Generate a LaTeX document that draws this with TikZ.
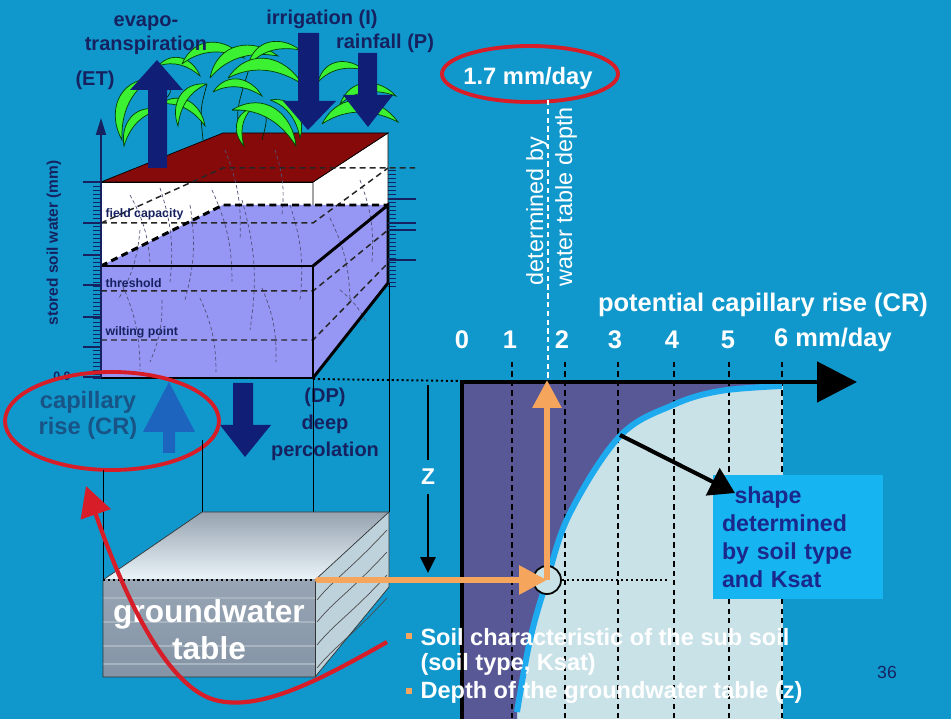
\documentclass[tikz,border=0pt]{standalone}
\usepackage{fontspec}
\setmainfont{Liberation Sans}
\usetikzlibrary{arrows.meta,positioning,calc}

\definecolor{slidebg}{RGB}{16,152,204}
\definecolor{navy}{RGB}{16,30,118}
\definecolor{labelnavy}{RGB}{22,34,96}
\definecolor{soilred}{RGB}{135,10,10}
\definecolor{soilblue}{RGB}{150,150,245}
\definecolor{rootgray}{RGB}{80,80,120}
\definecolor{leafgreen}{RGB}{60,240,50}
\definecolor{crblue}{RGB}{28,100,190}
\definecolor{crtext}{RGB}{24,84,134}
\definecolor{ringred}{RGB}{215,30,40}
\definecolor{chartdark}{RGB}{88,88,150}
\definecolor{chartlight}{RGB}{200,226,232}
\definecolor{curveblue}{RGB}{30,170,238}
\definecolor{orangearr}{RGB}{246,165,92}
\definecolor{boxblue}{RGB}{22,180,240}
\definecolor{boxtext}{RGB}{26,40,140}
\definecolor{gwback}{RGB}{150,162,175}
\definecolor{gwfrontedge}{RGB}{235,245,250}
\definecolor{gwface}{RGB}{132,148,166}
\definecolor{gwside}{RGB}{190,210,220}

\begin{document}
\begin{tikzpicture}[x=0.02cm, y=-0.02cm, semithick]
\tikzstyle{lbl}=[text=labelnavy, font=\bfseries\fontsize{11.4}{13.6}\selectfont, inner sep=0pt, align=center]
\tikzstyle{whitelbl}=[text=white, font=\bfseries\fontsize{14.5}{17}\selectfont, inner sep=0pt]
\tikzstyle{levellbl}=[text=labelnavy, font=\bfseries\fontsize{7}{8}\selectfont, inner sep=0pt, anchor=west]
\tikzstyle{level}=[black!85, line width=0.85pt, dash pattern=on 3.4pt off 2.3pt]
\tikzstyle{hidden}=[black, line width=1.7pt, dash pattern=on 4pt off 2.5pt]
\tikzstyle{root}=[rootgray, line width=0.4pt, dash pattern=on 2pt off 1.5pt]
\tikzstyle{leaf}=[fill=leafgreen, draw=green!25!black, line width=0.4pt]
\tikzstyle{gridln}=[black, line width=1.2pt, dash pattern=on 3pt off 2.4pt]
\tikzstyle{ring}=[ringred, line width=2.2pt]
\tikzstyle{orangearrow}=[orangearr, line width=3.4pt, -{Triangle[length=0.56cm,width=0.56cm]}]
\tikzstyle{bullettxt}=[text=white, font=\bfseries\fontsize{13.4}{16}\selectfont, inner sep=0pt, anchor=west]
\tikzstyle{bulletsq}=[fill=orangearr, inner sep=0pt, minimum size=0.12cm]

\fill[slidebg] (0,0) rectangle (951,719);
\useasboundingbox (0,0) rectangle (951,719);

% soil box, white layer and red top
\filldraw[fill=white, draw=black, thin] (101,182) rectangle (313,266);
\filldraw[fill=white, draw=black, thin] (313,182) -- (388,133) -- (388,205) -- (313,266) -- cycle;
\filldraw[fill=soilred, draw=black, thin] (101,182) -- (223,133) -- (388,133) -- (313,182) -- cycle;
% soil box, wet part
\fill[soilblue] (101,266) -- (223,205) -- (388,205) -- (313,266) -- cycle;
\fill[soilblue] (101,266) rectangle (313,378);
\fill[soilblue] (313,266) -- (388,205) -- (388,283) -- (313,378) -- cycle;
% roots
\foreach \ax/\ay/\bx/\by in {130/195/150/262, 160/188/170/282, 190/205/185/300, 212/190/232/282,
  242/200/250/330, 120/280/140/370, 162/300/150/362, 200/298/216/372, 262/288/276/362,
  290/205/300/300, 330/218/350/300, 360/180/372/262, 340/290/366/322, 225/150/240/240,
  275/150/282/215, 140/230/118/300}
  \draw[root] (\ax,\ay) to[bend left=12] (\bx,\by);
% levels
\draw[level] (101,223) -- (313,223) -- (388,168);
\draw[level] (101,223) -- (223,168) -- (415,168);
\draw[level] (101,291) -- (313,291) -- (388,230);
\draw[level] (101,340) -- (313,340) -- (388,263);
\draw[hidden] (101,266) -- (223,205) -- (388,205);
\draw[line width=1.7pt] (101,266) rectangle (313,378);
\draw[line width=1.7pt] (313,266) -- (388,205) -- (388,283) -- (313,378);
\node[levellbl] (fc) at (105,214) {field capacity};
\node[levellbl] (thr) at (105,283) {threshold};
\node[levellbl] (wp) at (105,332) {wilting point};

% stored soil water axis
\draw[labelnavy, line width=1.1pt, -{Triangle[length=0.34cm,width=0.2cm]}] (101,378) -- (101,118);
\foreach \ty in {182,186,...,378}
  \draw[labelnavy, thin] (93,\ty) -- (101,\ty);
\foreach \ty in {182,223,255,285,317,347,377}
  \draw[labelnavy, line width=0.9pt] (83,\ty) -- (101,\ty);
\foreach \ty in {170,174,...,286}
  \draw[labelnavy, thin] (388,\ty) -- (396,\ty);
\foreach \ty in {199,223,230,260}
  \draw[labelnavy, line width=0.9pt] (388,\ty) -- (416,\ty);
\node[text=labelnavy, font=\bfseries\fontsize{8.8}{10}\selectfont, rotate=90] (ssw) at (54,243) {stored soil water (mm)};
\node[text=labelnavy, font=\bfseries\fontsize{7}{8}\selectfont] (zero) at (62,376) {0.0};

% plant
\draw[green!15!black, thin] (203,140) .. controls (200,110) .. (207,84);
\draw[green!15!black, thin] (240,138) .. controls (236,110) .. (250,66);
\draw[green!15!black, thin] (262,140) .. controls (270,110) .. (232,110);
\draw[green!15!black, thin] (160,104) .. controls (175,90) .. (152,78);
\foreach \bx/\by/\tx/\ty/\lf in {152/78/122/140/-1, 160/110/124/146/-1, 160/104/205/126/1,
  158/66/200/76/1, 182/64/244/58/1, 207/84/178/126/-1, 210/78/278/56/1, 213/92/262/96/1,
  252/108/244/146/-1, 248/66/300/50/1, 228/78/302/84/1, 232/110/296/146/1,
  270/100/300/138/1, 318/82/364/70/1, 322/124/398/122/1, 340/104/396/96/1}
{
  \pgfmathsetmacro\la{atan2(\by-\ty,\tx-\bx)}
  \pgfmathsetmacro\ll{veclen(\tx-\bx,\ty-\by)}
  \begin{scope}[shift={(\bx,\by)}, rotate=\la, yscale=\lf]
    \filldraw[leaf] (0,0) .. controls (0.25*\ll,-0.45*\ll) and (0.75*\ll,-0.36*\ll) .. (\ll,0)
      .. controls (0.7*\ll,-0.16*\ll) and (0.35*\ll,-0.22*\ll) .. (0,0);
  \end{scope}
}

% flux arrows
\fill[navy] (148,168) -- (148,90) -- (130,90) -- (157,60) -- (183,90) -- (167,90) -- (167,168) -- cycle;
\fill[navy] (298,33) -- (298,101) -- (283,101) -- (308,130) -- (336,101) -- (319,101) -- (319,33) -- cycle;
\fill[navy] (358,53) -- (358,95) -- (343,95) -- (368,127) -- (393,95) -- (377,95) -- (377,53) -- cycle;
\fill[navy] (233,383) -- (233,425) -- (220,425) -- (245,457) -- (271,425) -- (253,425) -- (253,383) -- cycle;
\fill[crblue] (163,453) -- (163,432) -- (143,432) -- (169,382) -- (195,432) -- (175,432) -- (175,453) -- cycle;

\node[lbl] (et) at (146,35) {evapo-\\transpiration};
\node[lbl] (etshort) at (95,80) {(ET)};
\node[lbl] (irr) at (322,19) {irrigation (I)};
\node[lbl] (rain) at (385,43) {rainfall (P)};
\node[lbl, font=\bfseries\fontsize{11.4}{15.3}\selectfont] (dp) at (325,424) {(DP)\\deep\\percolation};

% capillary rise ring
\node[text=crtext, font=\bfseries\fontsize{13.5}{14.7}\selectfont, align=center, inner sep=0pt] (cr) at (88,415) {capillary\\rise (CR)};
\draw[ring] (112,421) ellipse (107 and 49);

% drop lines to groundwater
\draw[black, thin] (103,470) -- (103,580);
\draw[black, thin] (202,440) -- (202,512);
\draw[black, thin] (313,378) -- (313,580);
\draw[black, thin] (389,283) -- (389,512);
\draw[black, line width=1.1pt, dash pattern=on 1.2pt off 1.6pt] (313,379) -- (462,381);

% groundwater box
\shade[top color=gwback, bottom color=gwfrontedge] (103,580) -- (202,512) -- (389,512) -- (315,580) -- cycle;
\shade[top color=gwface!85!white, bottom color=gwface] (103,580) rectangle (315,677);
\foreach \sy in {598,622,646,664}
  \draw[gwface!70!white, line width=1pt] (103,\sy) -- (315,\sy);
\fill[gwside] (315,580) -- (389,512) -- (389,587) -- (315,677) -- cycle;
\foreach \wy in {600,622,645,668}
  \draw[gray!60!black, thin] (317,\wy) .. controls (335,\wy-22) and (350,\wy-30) .. (387,\wy-70);
\draw[black!80, thin] (103,580) -- (202,512) -- (389,512) -- (389,587) -- (315,677) -- (103,677) -- cycle;
\draw[black!80, thin] (315,580) -- (389,512);
\draw[black!80, thin] (315,580) -- (315,677);
\draw[black, line width=1.1pt, dash pattern=on 1.2pt off 1.6pt] (103,580) -- (315,580);
\node[text=white, font=\bfseries\fontsize{18}{21}\selectfont, align=center, inner sep=0pt] (gw) at (209,630) {groundwater\\table};

% rate label
\node[whitelbl, font=\bfseries\fontsize{13.5}{16}\selectfont] (rate) at (528,78) {1.7 mm/day};
\draw[ring] (530,74) ellipse (88 and 28);
\coordinate (wtop) at (548,100);
\coordinate (wbot) at (548,382);
\draw[white, line width=0.8pt, dash pattern=on 3pt off 2pt] (wtop) -- (wbot);
\node[text=white, font=\fontsize{13.3}{15}\selectfont, rotate=90] (detby) at (537,211) {determined by};
\node[text=white, font=\fontsize{13.3}{15}\selectfont, rotate=90] (wtd) at (566,197) {water table depth};

% capillary rise chart
\fill[chartlight] (462,382) rectangle (783,719);
\fill[chartdark] (462,719) -- (517,719) -- plot[smooth, tension=0.6] coordinates {(517,712) (530,640) (547,580) (570,513) (620,436) (673,405) (720,391) (782,386)} -- (782,382) -- (462,382) -- cycle;
\foreach \gx in {512,565,618,674,729,782}
  \draw[gridln] (\gx,362) -- (\gx,719);
\draw[curveblue, line width=3.4pt] plot[smooth, tension=0.6] coordinates {(517,712) (530,640) (547,580) (570,513) (620,436) (673,405) (720,391) (782,386)};
\draw[black, line width=2.8pt, -{Triangle[length=0.8cm,width=0.8cm]}] (462,719) -- (462,382) -- (857,382);
\foreach \v/\tx in {0/462,1/510,2/562,3/615,4/672,5/728}
  \node[whitelbl] (tick\v) at (\tx,340) {\v};
\node[whitelbl] (tick6) at (833,340) {6 mm/day};
\node[whitelbl] (crtitle) at (763,305) {potential capillary rise (CR)};

% depth z
\node[text=white, font=\bfseries\fontsize{13}{15}\selectfont, inner sep=5pt] (zlab) at (428,477) {Z};
\coordinate (ztop) at (428,385);
\coordinate (zbot) at (428,573);
\draw[black, line width=1.7pt] (ztop) -- (zlab);
\draw[black, line width=1.7pt, -{Triangle[length=0.32cm,width=0.3cm]}] (zlab) -- (zbot);

% reading the curve
\node[circle, draw=black, fill=chartlight, line width=1pt, minimum size=0.56cm, inner sep=0pt] (hit) at (547,580) {};
\coordinate (gwedge) at (318,580);
\coordinate (rateaxis) at (547,380);
\coordinate (dotend) at (667,580);
\draw[black, line width=1.1pt, dash pattern=on 1.2pt off 1.6pt] (hit.east) -- (dotend);
\draw[orangearrow, line cap=round] (gwedge) -- (hit.center);
\draw[orangearrow] (hit.center) -- (rateaxis);

% shape box
\node[fill=boxblue, text=boxtext, font=\bfseries\fontsize{13.2}{15.9}\selectfont, align=left,
  minimum width=3.4cm, minimum height=2.5cm, text width=3.04cm, inner xsep=0.18cm] (ksat) at (798,537)
  {\hspace{0.25cm}shape\\determined\\by soil type\\and Ksat};
\coordinate (crvpt) at (620,435);
\coordinate (shapetip) at (735,493);
\draw[black, line width=2.3pt, -{Triangle[length=0.5cm,width=0.6cm]}] (crvpt) -- (shapetip);

% red arrow back to capillary rise
\coordinate (redstart) at (387,642);
\coordinate (redtip) at (86,486);
\draw[ringred, line width=2.4pt, -{Triangle[length=0.6cm,width=0.62cm]}] (redstart) .. controls (320,680) and (260,712) .. (215,700) .. controls (160,685) and (115,570) .. (redtip);

% bullets
\node[bulletsq] (b1) at (409,636) {};
\node[bulletsq] (b2) at (409,691) {};
\node[bullettxt] (soilchar) at (420,637) {Soil characteristic of the sub soil};
\node[bullettxt] (soiltype) at (420,664) {(soil type, Ksat)};
\node[bullettxt] (depth) at (420,692) {Depth of the groundwater table (z)};
\node[text=labelnavy, font=\fontsize{10}{12}\selectfont] (pageno) at (887,672) {36};
\end{tikzpicture}
\end{document}
